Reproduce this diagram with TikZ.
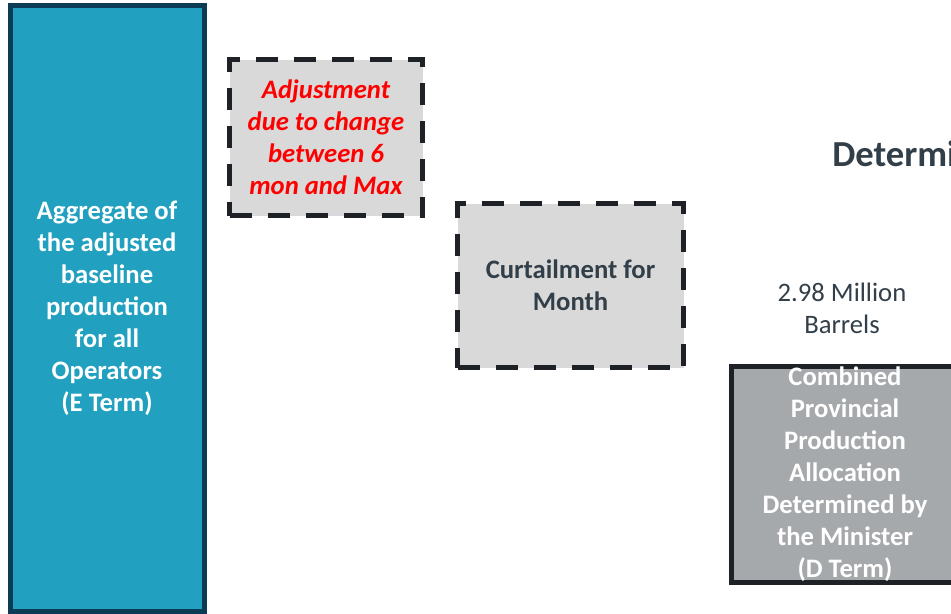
\documentclass[tikz,border=0pt]{standalone}
\usepackage{fontspec}
\setmainfont{Carlito}
\definecolor{termblue}{HTML}{21A0BF}
\definecolor{termnavy}{HTML}{0B3B55}
\definecolor{boxgrey}{HTML}{D9D9D9}
\definecolor{dterm}{HTML}{A6A9AC}
\definecolor{edge}{HTML}{1E2226}
\definecolor{slate}{HTML}{333F48}

\begin{document}
\begin{tikzpicture}[x=0.75pt,y=-0.75pt,
    bar/.style={rectangle,inner sep=0pt,align=center,line width=3.75pt,
      font=\fontsize{20}{24}\selectfont\bfseries},
    dashbox/.style={bar,draw=edge,fill=boxgrey,dash pattern=on 16.5pt off 12pt},
    label/.style={align=center,text=slate,font=\fontsize{20}{24}\selectfont}]
  \useasboundingbox (0,0) rectangle (951,614);
  		\node[bar,draw=termnavy,fill=termblue,text=white,
    			minimum width=145.5pt,minimum height=454.5pt] (eterm) at (107,308)
    			{Aggregate of\\the adjusted\\baseline\\production\\for all\\Operators\\(E Term)};
  		\node[dashbox,text=red,minimum width=144.75pt,minimum height=117pt] (adjust) at (326,137.5)
    			{\itshape Adjustment\\\itshape due to change\\\itshape between 6\\\itshape mon and Max};
  		\node[dashbox,text=slate,minimum width=169.5pt,minimum height=123pt] (curtail) at (570.5,285.5)
    			{Curtailment for\\Month};
  		\node[label,font=\fontsize{27.5}{32}\selectfont\bfseries,anchor=west,inner sep=0pt] (title) at (832,154)
    			{Determined};
  		\node[label] (barrels) at (842,308) {2.98 Million\\Barrels};
  		\node[bar,draw=edge,fill=dterm,text=white,
    			minimum width=170pt,minimum height=162pt] (dterm) at (845,474.5)
    			{Combined\\Provincial\\Production\\Allocation\\Determined by\\the Minister\\(D Term)};
\end{tikzpicture}
\end{document}
